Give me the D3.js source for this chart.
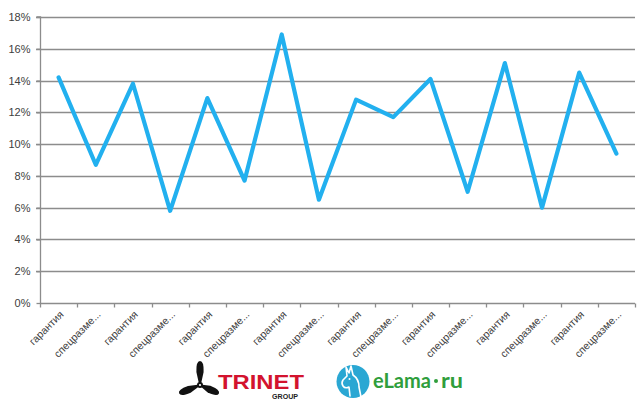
<!DOCTYPE html>
<html><head><meta charset="utf-8">
<script src="https://cdn.jsdelivr.net/npm/d3@7/dist/d3.min.js"></script>
<style>html,body{margin:0;padding:0;background:#fff;}svg{display:block;}</style>
</head><body>
<svg id="c" width="644" height="407"></svg>
<script>
const categories = ["гарантия","спецразме...","гарантия","спецразме...","гарантия","спецразме...","гарантия","спецразме...","гарантия","спецразме...","гарантия","спецразме...","гарантия","спецразме...","гарантия","спецразме..."];
const values = [14.2, 8.7, 13.8, 5.8, 12.9, 7.7, 16.9, 6.5, 12.8, 11.7, 14.1, 7.0, 15.1, 6.0, 14.5, 9.4];
const yTicks = [0, 2, 4, 6, 8, 10, 12, 14, 16, 18];

const svg = d3.select("#c");
const mLeft = 40, mRight = 635, mTop = 17, mBottom = 303;
const x = d3.scaleBand().domain(d3.range(categories.length)).range([mLeft, mRight]);
const y = d3.scaleLinear().domain([0, 18]).range([mBottom, mTop]);

// gridlines
svg.append("g").selectAll("line").data(yTicks.filter(d => d > 0)).join("line")
  .attr("x1", mLeft - 4).attr("x2", mRight)
  .attr("y1", d => Math.round(y(d)) + 0.5).attr("y2", d => Math.round(y(d)) + 0.5)
  .attr("stroke", "#8c8c8c").attr("stroke-width", 1.3);

// y axis
const yAxis = d3.axisLeft(y).tickValues(yTicks).tickFormat(d => d + "%").tickSize(4).tickPadding(6);
const gy = svg.append("g").attr("transform", `translate(${mLeft + 0.5},0)`).call(yAxis);
gy.select(".domain").attr("stroke", "#8c8c8c").attr("stroke-width", 1.3).attr("d", `M-4,${mTop}H0V${mBottom}`);
gy.selectAll(".tick line").attr("stroke", "#8c8c8c").attr("stroke-width", 1.3);
gy.selectAll("text").attr("fill", "#404040").style("font-family", "Liberation Sans, Arial, sans-serif").style("font-size", "11px");

// x axis
const xb = d3.scaleLinear().domain([0, categories.length]).range([mLeft, mRight]);
const gx = svg.append("g").attr("transform", `translate(0,${Math.round(mBottom) + 0.5})`);
gx.append("line").attr("x1", mLeft).attr("x2", mRight).attr("stroke", "#8c8c8c").attr("stroke-width", 1.3);
gx.selectAll("line.tk").data(d3.range(categories.length + 1)).join("line").attr("class", "tk")
  .attr("x1", d => Math.round(xb(d)) + 0.5).attr("x2", d => Math.round(xb(d)) + 0.5)
  .attr("y1", 0).attr("y2", 4).attr("stroke", "#8c8c8c").attr("stroke-width", 1.3);
gx.selectAll("text").data(categories).join("text")
  .attr("transform", (d, i) => `translate(${x(i) + x.bandwidth() / 2 + 3},${9}) rotate(-45)`)
  .attr("text-anchor", "end").attr("dy", "0.35em")
  .attr("fill", "#404040").style("font-family", "Liberation Sans, Arial, sans-serif").style("font-size", "10.5px")
  .text(d => d);

// line
const line = d3.line().x((d, i) => x(i) + x.bandwidth() / 2).y(d => y(d));
svg.append("path").datum(values).attr("d", line)
  .attr("fill", "none").attr("stroke", "#22b0ef").attr("stroke-width", 4.2)
  .attr("stroke-linejoin", "round").attr("stroke-linecap", "round");

// TRINET logo
const tr = svg.append("g");
const pc = [200, 385];
[[0, -23], [-20, 8], [18, 8]].forEach(([dx, dy]) => {
  const ang = Math.atan2(dy, dx) * 180 / Math.PI;
  const len = Math.hypot(dx, dy);
  tr.append("path")
    .attr("transform", `translate(${pc[0]},${pc[1]}) rotate(${ang})`)
    .attr("d", `M2,-1.2 L${len - 10},-3.6 Q${len + 1},-4 ${len + 1},0 Q${len + 1},4 ${len - 10},3.6 L2,1.2 Z`)
    .attr("fill", "#111");
});
tr.append("circle").attr("cx", pc[0]).attr("cy", pc[1]).attr("r", 3).attr("fill", "#111");
tr.append("circle").attr("cx", pc[0]).attr("cy", pc[1]).attr("r", 1.1).attr("fill", "#fff");
tr.append("text").attr("x", 218).attr("y", 388.5)
  .style("font-family", "Liberation Sans, Arial, sans-serif").style("font-weight", "bold").style("font-size", "20.5px")
  .attr("textLength", 86).attr("lengthAdjust", "spacingAndGlyphs")
  .attr("fill", "#d3132e").text("TRINET");
tr.append("text").attr("x", 272).attr("y", 399)
  .style("font-family", "Liberation Sans, Arial, sans-serif").style("font-weight", "bold").style("font-size", "7.5px")
  .attr("textLength", 26).attr("lengthAdjust", "spacingAndGlyphs").attr("fill", "#222").text("GROUP");

// eLama logo
const el = svg.append("g");
el.append("circle").attr("cx", 353).attr("cy", 381.5).attr("r", 16.5).attr("fill", "#2aa7d3");
el.append("path")
  .attr("d", "M343,386 Q341,383 343,380 L347,376 L346,367 L349,373 L351,366 L353,375 Q359,379 359,387 L361,397 M343,386 Q345,389 349,387 L350,396")
  .attr("fill", "none").attr("stroke", "#fff").attr("stroke-width", 1.6)
  .attr("stroke-linejoin", "round").attr("stroke-linecap", "round");
el.append("circle").attr("cx", 349.5).attr("cy", 379).attr("r", 1).attr("fill", "#fff");
el.append("text").attr("x", 373).attr("y", 388)
  .style("font-family", "Lato, 'Open Sans', sans-serif").style("font-weight", "bold").style("font-size", "21px")
  .attr("textLength", 58).attr("lengthAdjust", "spacingAndGlyphs")
  .attr("fill", "#2f9e3c").text("eLama");
el.append("circle").attr("cx", 436).attr("cy", 381).attr("r", 2).attr("fill", "#2f9e3c");
el.append("text").attr("x", 441).attr("y", 388)
  .style("font-family", "Lato, 'Open Sans', sans-serif").style("font-weight", "bold").style("font-size", "21px")
  .attr("textLength", 22).attr("lengthAdjust", "spacingAndGlyphs")
  .attr("fill", "#2f9e3c").text("ru");
</script>
</body></html>
